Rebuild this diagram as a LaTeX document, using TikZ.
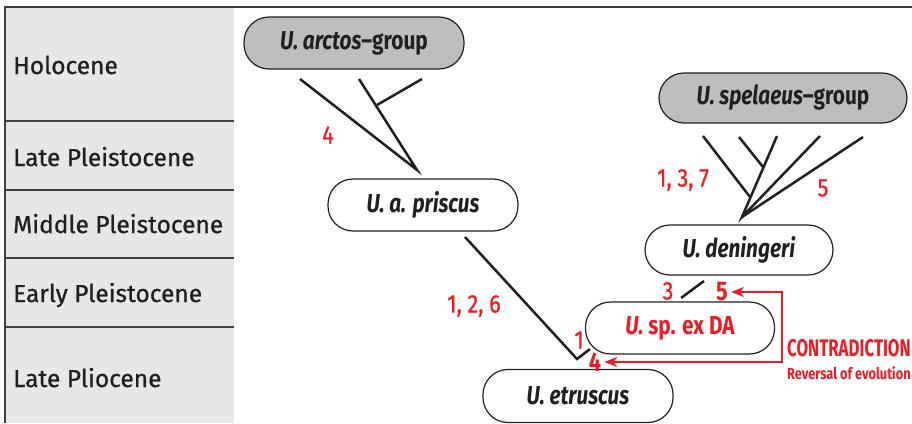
\documentclass[tikz,border=0pt]{standalone}
\usepackage{fontspec}
\setmainfont{Fira Sans}
\newfontfamily\epochfont{Fira Sans}[FakeBold=0.8]
\newfontfamily\narrowfont{Fira Sans}[FakeStretch=0.8]
\newfontfamily\numfont{Fira Sans}[FakeStretch=0.85, FakeBold=0.8]
\newfontfamily\tightfont{Fira Sans}[FakeStretch=0.7]
\usetikzlibrary{arrows.meta}

\definecolor{ink}{HTML}{231F20}
\definecolor{rule}{HTML}{404041}
\definecolor{hot}{HTML}{ED1C24}
\definecolor{panel}{HTML}{E6E7E8}
\definecolor{groupfill}{HTML}{BCBEC0}

\tikzset{
  epoch/.style={anchor=base west, inner sep=0pt, text=ink,
    font=\epochfont\fontsize{24.5}{24.5}\selectfont},
  taxon/.style={draw=ink, line width=1.2pt, rounded corners=25pt,
    minimum height=52pt, fill=white, inner sep=0pt, text=ink,
    font=\narrowfont\bfseries\fontsize{26}{26}\selectfont},
  grouptaxon/.style={taxon, fill=groupfill},
  branch/.style={draw=ink, line width=2.5pt, line join=miter},
  num/.style={text=hot, inner sep=0pt,
    font=\numfont\fontsize{25.5}{25.5}\selectfont},
  numbold/.style={text=hot, inner sep=0pt,
    font=\narrowfont\bfseries\fontsize{27}{27}\selectfont},
  conflict/.style={draw=hot, line width=1.4pt,
    arrows={Stealth[length=13pt,width=10pt,inset=4pt]-Stealth[length=13pt,width=10pt,inset=4pt]}},
}

\begin{document}
\begin{tikzpicture}[x=1pt, y=-1pt]
  \useasboundingbox (0,0) rectangle (912,423);

  % epoch column
  \fill[panel] (5,7) rectangle (234,423);
  \draw[rule, line width=1.5pt] (5,423) -- (5,7) -- (912,7);
  \foreach \yy in {121,190,258,327}
    \draw[rule, line width=1.2pt] (5,\yy) -- (234,\yy);

  \node[epoch] (holo)  at (13,74)  {Holocene};
  \node[epoch] (lplei) at (13,166) {Late Pleistocene};
  \node[epoch] (mplei) at (13,233) {Middle Pleistocene};
  \node[epoch] (eplei) at (13,302) {Early Pleistocene};
  \node[epoch] (lplio) at (13,387) {Late Pliocene};

  % taxa
  \node[grouptaxon, minimum width=220pt] (arctos) at (354,43) {\textit{U. arctos}–group};
  \node[taxon, minimum width=190pt] (priscus) at (423,205) {\textit{U. a. priscus}};
  \node[grouptaxon, minimum width=248pt, minimum height=50pt] (spelaeus) at (783,98) {\textit{U. spelaeus}–group};
  \node[taxon, minimum width=188pt, minimum height=50pt] (deningeri) at (739,250) {\textit{U. deningeri}};
  \node[taxon, minimum width=189pt, text=hot] (exda) at (680,328) {\textit{U.} sp. ex DA};
  \node[taxon, minimum width=190pt, minimum height=53pt] (etruscus) at (578,396) {\textit{U. etruscus}};

  % arctos branching
  \coordinate (a1) at (300,79);
  \coordinate (a2) at (359,79);
  \coordinate (a3) at (422,79);
  \coordinate (aj) at (377,105);
  \coordinate (aroot) at (417,170);
  \draw[branch] (a1) -- (aroot) -- (a2);
  \draw[branch] (a3) -- (aj);

  % priscus down to etruscus
  \coordinate (p1) at (465,237);
  \coordinate (pv) at (577,359);
  \coordinate (pe) at (590,349);
  \draw[branch] (p1) -- (pv) -- (pe);

  % spelaeus branching
  \coordinate (sroot) at (742,217);
  \coordinate (sb) at (777,136);
  \coordinate (sc) at (820,136);
  \coordinate (sd) at (863,137);
  \coordinate (sl) at (703,136);
  \coordinate (slj) at (750,197);
  \coordinate (sm) at (739,137);
  \coordinate (smj) at (763,167);
  \draw[branch] (sb) -- (sroot) -- (sc);
  \draw[branch] (sd) -- (sroot);
  \draw[branch] (sl) -- (slj);
  \draw[branch] (sm) -- (smj);

  % ex DA up to deningeri
  \coordinate (x1) at (681,298);
  \coordinate (x2) at (704,281);
  \draw[branch] (x1) -- (x2);

  % character numbers
  \node[num] (n4)   at (328,135) {4};
  \node[num] (n126) at (474,306) {1, 2, 6};
  \node[num] (n137) at (683,180) {1, 3, 7};
  \node[num] (n5)   at (823,188) {5};
  \node[num] (n3)   at (668,291) {3};
  \node[num] (n1)   at (579,340) {1};
  \node[numbold] (fiveb) at (722,292) {5};
  \node[numbold] (fourb) at (595,362) {4};

  % contradiction
  \coordinate (turn) at (782,330);
  \draw[conflict] ([xshift=3pt]fiveb.east) -| (turn) |- ([xshift=3pt]fourb.east);
  \node[anchor=west, inner sep=0pt, text=hot,
    font=\tightfont\bfseries\fontsize{24}{24}\selectfont] (contra) at (787,348) {CONTRADICTION};
  \node[anchor=west, inner sep=0pt, text=hot,
    font=\narrowfont\bfseries\fontsize{16}{16}\selectfont] (reversal) at (787,373) {Reversal of evolution};
\end{tikzpicture}
\end{document}
